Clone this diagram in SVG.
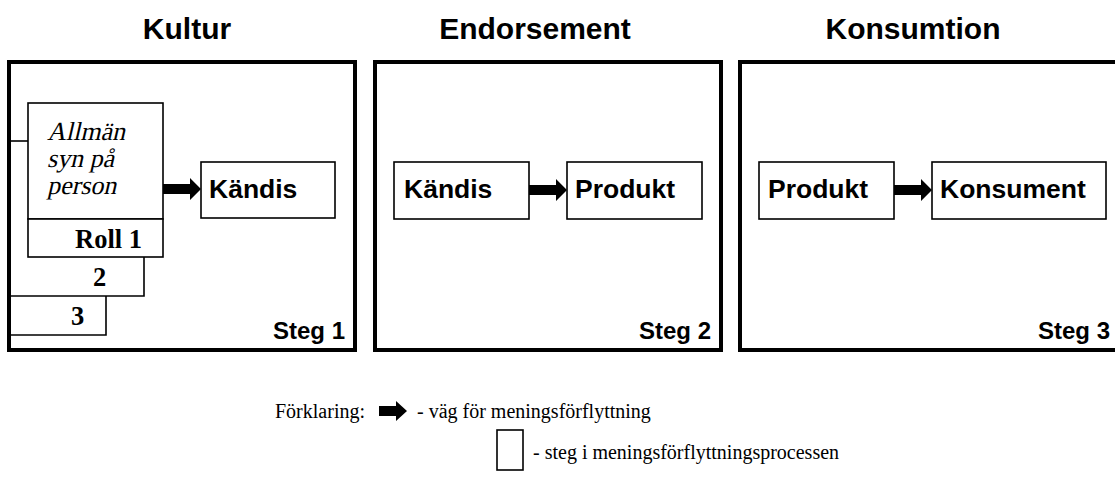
<svg xmlns="http://www.w3.org/2000/svg" width="1115" height="484" viewBox="0 0 1115 484">
<style>
.panel{fill:none;stroke:#000;stroke-width:4}
.box{fill:#fff;stroke:#000;stroke-width:1.6}
.ln{fill:none;stroke:#000;stroke-width:1.6}
.title{font-family:"Liberation Sans",Arial,sans-serif;font-weight:bold;font-size:30px;fill:#000;text-anchor:middle}
.lbl{font-family:"Liberation Sans",Arial,sans-serif;font-weight:bold;font-size:26.5px;fill:#000}
.steg{font-family:"Liberation Sans",Arial,sans-serif;font-weight:bold;font-size:24px;fill:#000;text-anchor:end}
.it{font-family:"Liberation Serif","Times New Roman",serif;font-size:26px;fill:#000}
.tb{font-family:"Liberation Serif","Times New Roman",serif;font-weight:bold;font-size:26.5px;fill:#000}
.leg{font-family:"Liberation Serif","Times New Roman",serif;font-size:20px;fill:#000}
.arr{fill:#000}
</style>
<defs>
<path id="barrow" d="M0,-5 H27 V-11 L38,0 L27,11 V5 H0 Z"/>
</defs>
<g id="titles">
<text class="title" x="187" y="39">Kultur</text>
<text class="title" x="535" y="39">Endorsement</text>
<text class="title" x="913" y="39">Konsumtion</text>
</g>
<g id="panel1">
<rect class="panel" x="9" y="62" width="346" height="288"/>
<path class="ln" d="M9,141 H28"/>
<path class="ln" d="M9,335 H106 V296"/>
<path class="ln" d="M9,296 H144 V257"/>
<g id="allman">
<rect class="box" x="28" y="103" width="135" height="116"/>
<text class="it" transform="translate(47,140) skewX(-13)">Allmän</text>
<text class="it" transform="translate(47,167) skewX(-13)">syn på</text>
<text class="it" transform="translate(47,194) skewX(-13)">person</text>
</g>
<g id="roll1">
<rect class="box" x="28" y="219" width="135" height="38"/>
<text class="tb" x="75" y="248">Roll 1</text>
</g>
<text class="tb" x="93" y="286">2</text>
<text class="tb" x="71" y="325">3</text>
<g id="kandis1">
<rect class="box" x="201" y="162" width="134" height="56"/>
<text class="lbl" x="209" y="198">Kändis</text>
</g>
<text class="steg" x="345" y="339">Steg 1</text>
</g>
<g id="panel2">
<rect class="panel" x="375" y="62" width="346" height="288"/>
<g id="kandis2">
<rect class="box" x="394" y="162" width="135" height="57"/>
<text class="lbl" x="404" y="198">Kändis</text>
</g>
<g id="produkt2">
<rect class="box" x="567" y="162" width="135" height="57"/>
<text class="lbl" x="575" y="198">Produkt</text>
</g>
<text class="steg" x="711" y="339">Steg 2</text>
</g>
<g id="panel3">
<rect class="panel" x="740" y="62" width="380" height="288"/>
<g id="produkt3">
<rect class="box" x="759" y="162" width="135" height="57"/>
<text class="lbl" x="768" y="198">Produkt</text>
</g>
<g id="konsument">
<rect class="box" x="932" y="162" width="174" height="57"/>
<text class="lbl" x="940" y="198">Konsument</text>
</g>
<text class="steg" x="1110" y="339">Steg 3</text>
</g>
<g id="connectors">
<use href="#barrow" class="arr" x="163" y="189"/>
<use href="#barrow" class="arr" x="529" y="190"/>
<use href="#barrow" class="arr" x="894" y="190"/>
</g>
<g id="legend">
<text class="leg" x="275" y="418">Förklaring:</text>
<path class="arr" d="M379,406 H396 V401 L407,411 L396,421 V416 H379 Z"/>
<text class="leg" x="417" y="418">- väg för meningsförflyttning</text>
<rect class="box" x="497" y="430" width="26" height="40"/>
<text class="leg" x="533" y="459">- steg i meningsförflyttningsprocessen</text>
</g>
</svg>
